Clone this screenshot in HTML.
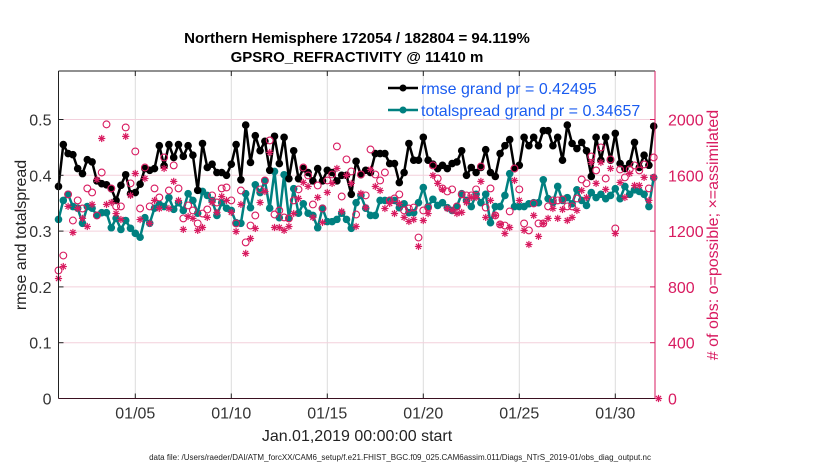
<!DOCTYPE html>
<html><head><meta charset="utf-8"><style>
body{margin:0;background:#fff;width:830px;height:470px;overflow:hidden;font-family:"Liberation Sans",sans-serif}
svg{display:block}
</style></head><body>
<svg id="chart" width="830" height="470" xmlns="http://www.w3.org/2000/svg">
<text x="357" y="43" text-anchor="middle" font-size="15" font-weight="bold">Northern Hemisphere 172054 / 182804 = 94.119%</text>
<text x="357" y="62" text-anchor="middle" font-size="15" font-weight="bold">GPSRO_REFRACTIVITY @ 11410 m</text>
<g id="grid"></g>
<g id="marks"></g>
<g id="axes"></g>
<text transform="translate(26,235) rotate(-90)" text-anchor="middle" font-size="16" fill="#222">rmse and totalspread</text>
<text transform="translate(718,235) rotate(-90)" text-anchor="middle" font-size="16" fill="#d81b60"># of obs: o=possible; ×=assimilated</text>
<text x="357" y="441" text-anchor="middle" font-size="16" fill="#222">Jan.01,2019 00:00:00 start</text>
<text x="400" y="460" text-anchor="middle" font-size="8" fill="#222">data file: /Users/raeder/DAI/ATM_forcXX/CAM6_setup/f.e21.FHIST_BGC.f09_025.CAM6assim.011/Diags_NTrS_2019-01/obs_diag_output.nc</text>
<g id="legend"></g>
</svg>
<script>
const xTickLabels=["01/05","01/10","01/15","01/20","01/25","01/30"];
const xTickDays=[4,9,14,19,24,29];
const yTicksLeft=[0,0.1,0.2,0.3,0.4,0.5];
const yTicksRight=[0,400,800,1200,1600,2000];
const rmse=[0.38,0.455,0.439,0.437,0.412,0.403,0.428,0.424,0.39,0.385,0.383,0.376,0.355,0.382,0.401,0.367,0.369,0.384,0.412,0.409,0.412,0.453,0.417,0.455,0.432,0.455,0.434,0.453,0.436,0.373,0.457,0.414,0.42,0.405,0.405,0.40,0.42,0.455,0.392,0.49,
0.423,0.471,0.444,0.461,0.409,0.47,0.421,0.468,0.394,0.444,0.394,0.412,0.405,0.39,0.412,0.39,0.409,0.405,0.39,0.40,0.40,0.366,0.425,0.401,0.409,0.405,0.439,0.439,0.439,0.421,0.421,0.387,0.405,0.457,0.427,0.427,0.468,0.427,0.42,0.412,0.418,0.412,
0.421,0.424,0.444,0.40,0.414,0.405,0.414,0.446,0.405,0.398,0.439,0.453,0.464,0.412,0.418,0.468,0.453,0.468,0.453,0.48,0.48,0.453,0.468,0.427,0.49,0.457,0.448,0.459,0.444,0.398,0.468,0.427,0.468,0.427,0.475,0.421,0.412,0.421,0.459,0.414,0.436,0.418,0.488];
const spread=[0.321,0.355,0.366,0.344,0.341,0.314,0.344,0.341,0.328,0.333,0.333,0.306,0.323,0.303,0.319,0.305,0.296,0.289,0.324,0.314,0.341,0.348,0.344,0.36,0.339,0.351,0.337,0.367,0.355,0.332,0.371,0.364,0.355,0.328,0.351,0.341,0.337,0.315,0.314,0.367,
0.342,0.383,0.369,0.39,0.341,0.407,0.324,0.401,0.323,0.376,0.332,0.349,0.332,0.328,0.306,0.341,0.317,0.317,0.321,0.332,0.321,0.305,0.351,0.364,0.341,0.328,0.328,0.355,0.355,0.355,0.355,0.342,0.349,0.333,0.333,0.351,0.378,0.344,0.357,0.346,0.351,0.342,
0.337,0.344,0.367,0.355,0.344,0.366,0.351,0.366,0.315,0.344,0.344,0.364,0.403,0.344,0.344,0.344,0.349,0.351,0.351,0.392,0.358,0.351,0.38,0.355,0.36,0.349,0.374,0.355,0.346,0.369,0.36,0.366,0.358,0.364,0.376,0.358,0.38,0.366,0.374,0.371,0.366,0.344,0.396];
const possible=[918,1025,1463,1276,1420,1362,1506,1477,1312,1620,1965,1506,1377,1377,1943,1542,1771,1362,1656,1377,1506,1441,1728,1491,1671,1506,1291,1384,1348,1255,1326,1355,1456,1405,1506,1513,1420,1255,1491,1119,
1240,1312,1499,1563,1850,1319,1348,1298,1291,1420,1499,1656,1599,1391,1527,1362,1563,1606,1807,1448,1714,1628,1319,1606,1456,1785,1606,1563,1620,1420,1434,1463,1348,1362,1369,1154,1348,1369,1671,1577,1506,1484,
1499,1377,1463,1456,1456,1499,1663,1369,1506,1312,1248,1240,1341,1649,1499,1255,1205,1398,1255,1255,1377,1420,1420,1427,1377,1377,1434,1570,1542,1735,1635,1800,1577,1714,1219,1642,1585,1642,1671,1635,1678,1506,1728];
const assimilated=[860,946,1377,1190,1362,1291,1233,1391,1570,1864,1391,1405,1326,1283,1879,1456,1613,1283,1577,1255,1420,1362,1649,1362,1556,1420,1212,1305,1291,1205,1226,1298,1405,1334,1448,1420,1334,1197,1391,1040,
1147,1219,1405,1484,1764,1226,1226,1205,1233,1326,1434,1549,1520,1298,1441,1262,1477,1542,1649,1341,1599,1542,1233,1470,1369,1642,1520,1491,1362,1398,1326,1398,1298,1269,1283,1090,1276,1326,1599,1542,1499,1362,
1348,1326,1334,1405,1441,1441,1556,1298,1420,1312,1248,1183,1226,1563,1420,1205,1104,1312,1162,1255,1291,1362,1291,1355,1276,1298,1348,1491,1441,1692,1542,1692,1499,1649,1183,1549,1441,1613,1527,1527,1585,1420,1585,0];

const NS="http://www.w3.org/2000/svg";
const L=58.5,R=655,T=71,B=398.5;
const x=d=>L+d*19.2;
const yl=v=>B-v*558;
const yr=c=>B-c*0.1395;
function mk(tag,attrs,parent){const e=document.createElementNS(NS,tag);for(const k in attrs)e.setAttribute(k,attrs[k]);parent.appendChild(e);return e;}
const grid=document.getElementById('grid'),marks=document.getElementById('marks'),axes=document.getElementById('axes'),legend=document.getElementById('legend');
mk('rect',{x:L,y:T,width:R-L,height:B-T,fill:'#fff'},grid);
xTickDays.forEach((d,i)=>{
 const g=mk('line',{x1:x(d),y1:T,x2:x(d),y2:B,stroke:'#dcdcdc','stroke-width':1},grid);
 
 
 mk('line',{x1:x(d),y1:B,x2:x(d),y2:B-5,stroke:'#222'},axes);
 mk('line',{x1:x(d),y1:T,x2:x(d),y2:T+5,stroke:'#222'},axes);
 const t=mk('text',{x:x(d),y:B+20,'text-anchor':'middle','font-size':16,fill:'#333'},axes);
 t.textContent=xTickLabels[i];
 
 
});
yTicksLeft.forEach(v=>{
 if(v>0){const g=mk('line',{x1:L,y1:yl(v),x2:R,y2:yl(v),stroke:'#f3d0dc','stroke-width':1},grid);
 
 }
 mk('line',{x1:L,y1:yl(v),x2:L+5,y2:yl(v),stroke:'#222'},axes);
 const t=mk('text',{x:L-7,y:yl(v)+6,'text-anchor':'end','font-size':16,fill:'#333'},axes);
 t.textContent=v===0?'0':v.toFixed(1);
 
 
});
yTicksRight.forEach(c=>{
 mk('line',{x1:R-5,y1:yr(c),x2:R,y2:yr(c),stroke:'#d81b60'},axes);
 const t=mk('text',{x:R+13,y:yr(c)+6,'font-size':16,fill:'#d81b60'},axes);
 t.textContent=c;
 
 
});
mk('line',{x1:L,y1:T,x2:R,y2:T,stroke:'#222'},axes);
mk('line',{x1:L,y1:T,x2:L,y2:B,stroke:'#222'},axes);
mk('line',{x1:L,y1:B,x2:R,y2:B,stroke:'#3a1020'},axes);
mk('line',{x1:R,y1:T,x2:R,y2:B,stroke:'#d81b60'},axes);

function series(vals,color,name){
 const p=mk('polyline',{points:vals.map((v,i)=>x(i/4)+','+yl(v)).join(' '),fill:'none',stroke:color,'stroke-width':2.5,'stroke-linejoin':'round'},marks);
 
 
 vals.forEach((v,i)=>{
  const c=mk('circle',{cx:x(i/4),cy:yl(v),r:3.8,fill:color},marks);
  
  
 });
}
series(spread,'#008080','totalspread');
series(rmse,'#000','rmse');

const pink='#d81b60';
possible.forEach((c,i)=>{
 const e=mk('circle',{cx:x(i/4),cy:yr(c),r:3.4,fill:'none',stroke:pink,'stroke-width':1.1},marks);
 
 
});
assimilated.forEach((c,i)=>{
 const cx=x(i/4),cy=yr(c),g=mk('g',{stroke:pink,'stroke-width':1.2},marks);
 
 
 for(let a=0;a<4;a++){const an=a*Math.PI/4,dx=3.6*Math.cos(an),dy=3.6*Math.sin(an);mk('line',{x1:cx-dx,y1:cy-dy,x2:cx+dx,y2:cy+dy},g);}
});
[['#000','rmse grand pr = 0.42495',88,'legend-entry-rmse'],['#008080','totalspread grand pr = 0.34657',110,'legend-entry-totalspread']].forEach(r=>{
 mk('line',{x1:388,y1:r[2],x2:418,y2:r[2],stroke:r[0],'stroke-width':2.5},legend);
 mk('circle',{cx:403,cy:r[2],r:3.5,fill:r[0]},legend);
 const t=mk('text',{x:421,y:r[2]+6,'font-size':16,fill:'#1a5cf0'},legend);
 t.textContent=r[1];
 
 
});
</script>
</body></html>
